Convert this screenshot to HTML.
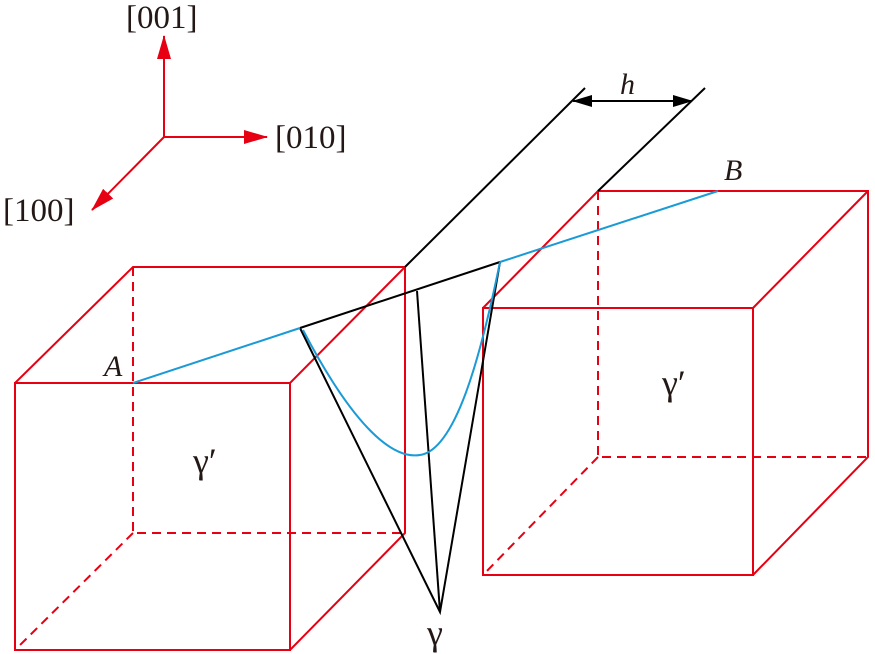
<!DOCTYPE html>
<html><head><style>body{margin:0;background:#fff}svg{display:block}</style></head><body>
<svg width="875" height="654" viewBox="0 0 875 654" xmlns="http://www.w3.org/2000/svg">
<defs>
<marker id="ra" markerWidth="24" markerHeight="14" refX="23" refY="7" orient="auto" markerUnits="userSpaceOnUse"><path d="M0,0 L24,7 L0,14 Z" fill="#e60012"/></marker>
<marker id="ka" markerWidth="20" markerHeight="12" refX="19" refY="6" orient="auto" markerUnits="userSpaceOnUse"><path d="M0,0 L20,6 L0,12 Z" fill="#000"/></marker>
</defs>
<g stroke="#e60012" stroke-width="2" fill="none">
<line x1="164" y1="137" x2="164" y2="36" marker-end="url(#ra)"/>
<line x1="164" y1="137" x2="267" y2="137" marker-end="url(#ra)"/>
<line x1="164" y1="137" x2="92" y2="210" marker-end="url(#ra)"/>
<rect x="15" y="383" width="275" height="267"/>
<polyline points="15,383 133,267 405,267 405,533 290,650"/>
<line x1="405" y1="267" x2="290" y2="383"/>
<g stroke-dasharray="9,6"><polyline points="133,267 133,533 405,533"/><line x1="133" y1="533" x2="15" y2="650"/></g>
<rect x="483" y="308" width="270" height="267"/>
<polyline points="483,308 598,191 868,191 868,457 753,575"/>
<line x1="868" y1="191" x2="753" y2="308"/>
<g stroke-dasharray="9,6"><polyline points="598,191 598,457 868,457"/><line x1="598" y1="457" x2="483" y2="575"/></g>
</g>
<g stroke="#000" stroke-width="2" fill="none">
<line x1="405" y1="267" x2="585" y2="88"/>
<line x1="598" y1="191" x2="705" y2="88"/>
<line x1="300" y1="328" x2="500" y2="262"/>
<polyline points="300,328 440,612 500,262"/>
<line x1="417" y1="291" x2="440" y2="612"/>
<line x1="630" y1="101" x2="573" y2="101" marker-end="url(#ka)"/>
<line x1="630" y1="101" x2="692" y2="101" marker-end="url(#ka)"/>
</g>
<g stroke="#1a9ad6" stroke-width="2" fill="none">
<line x1="133" y1="383" x2="300" y2="328"/>
<line x1="500" y1="262" x2="718" y2="191"/>
<path d="M303,330 C350,420 390,460 420,455 C455,450 480,360 500,262"/>
</g>
<g font-family="'Liberation Serif', serif" font-size="33" fill="#231815">
<text x="126" y="28">[001]</text>
<text x="275" y="148">[010]</text>
<text x="3" y="221">[100]</text>
<text x="104" y="376" font-style="italic" font-size="30">A</text>
<text x="724" y="180" font-style="italic" font-size="30">B</text>
<text x="620" y="94" font-style="italic" font-size="30">h</text>
<text x="193" y="473" font-size="36">γ′</text>
<text x="662" y="395" font-size="36">γ′</text>
<text x="427" y="645" font-size="36">γ</text>
</g>
</svg>
</body></html>
